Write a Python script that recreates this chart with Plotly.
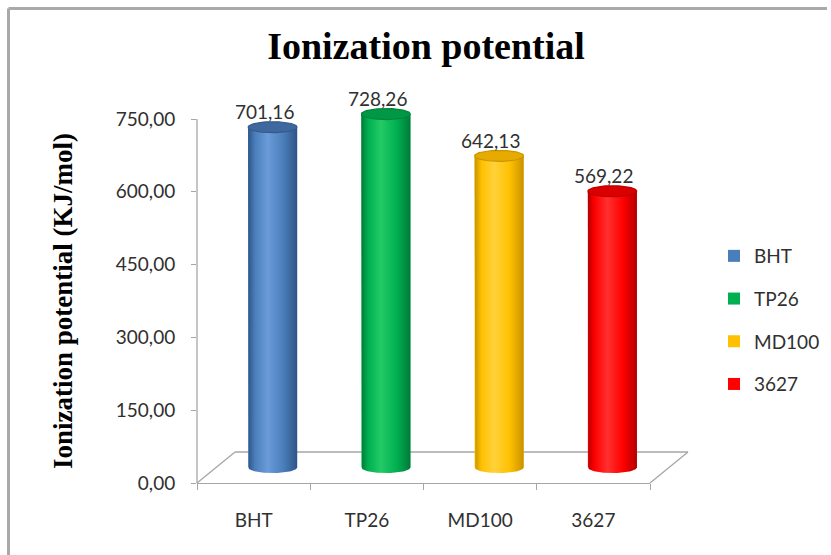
import numpy as np
import plotly.graph_objects as go

# ---- data -------------------------------------------------------------
categories = ["BHT", "TP26", "MD100", "3627"]
values = [701.16, 728.26, 642.13, 569.22]
y_ticks = [0, 150, 300, 450, 600, 750]

# ---- cylinder palette (base, dark edge, highlight, top face, top rim) --
base_colors = ["#4A7EBB", "#00B050", "#FFC000", "#FF0000"]
dark_colors = ["#2F5487", "#007A38", "#C99300", "#B30000"]
light_colors = ["#6B9BD9", "#22CA66", "#FFD23A", "#FF3030"]
top_colors = ["#3F689E", "#009844", "#E6AA00", "#DA0000"]
rim_colors = ["#355A8C", "#00843B", "#C99500", "#BC0000"]

# ---- geometry ---------------------------------------------------------
W, H = 831, 555
L, R, T, B = 197, 650, 95, 483           # plot-area edges in pixels
n = len(categories)
kx = (R - L) / n                         # px per category
ky = 364 / 750                           # px per y unit
y_top = (B - T) / ky                     # upper end of the front-plane axis
depth_x = 38 / kx                        # floor depth (x units)
depth_y = 31 / ky                        # floor depth (y units)
shift_x = depth_x / 2                    # bars stand at mid depth
bar_w = 49 / kx
ell_a = bar_w / 2
ell_b = 5.5 / ky

label_font = dict(family="Lato", size=19, color="#303030")

fig = go.Figure()

# front-plane subplot carrying the value axis
fig.add_scatter(x=[], y=[], xaxis="x", yaxis="y", showlegend=False, hoverinfo="skip")

for i, (cat, v) in enumerate(zip(categories, values)):
    xc = i + shift_x
    fig.add_bar(
        x=[i], y=[v], width=bar_w, offset=shift_x - bar_w / 2,
        marker=dict(color=base_colors[i], line=dict(width=0)),
        name=cat, legendgroup=cat, xaxis="x", yaxis="y2",
        hovertemplate=f"{cat}: %{{y:.2f}}<extra></extra>",
    )
    # shaded cylinder body with rounded bottom
    t = np.linspace(np.pi, 2 * np.pi, 40)
    xs = [xc - ell_a] + list(xc + ell_a * np.cos(t)) + [xc + ell_a, xc - ell_a]
    ys = [v] + list(ell_b * np.sin(t)) + [v, v]
    fig.add_scatter(
        x=xs, y=ys, mode="lines", fill="toself", line=dict(width=0),
        fillgradient=dict(
            type="horizontal",
            colorscale=[[0, dark_colors[i]], [0.14, base_colors[i]],
                        [0.4, light_colors[i]], [0.72, base_colors[i]],
                        [1, dark_colors[i]]],
        ),
        showlegend=False, hoverinfo="skip", xaxis="x", yaxis="y2",
    )
    # top face
    t2 = np.linspace(0, 2 * np.pi, 72)
    fig.add_scatter(
        x=xc + ell_a * np.cos(t2), y=v + ell_b * np.sin(t2),
        mode="lines", fill="toself", fillcolor=top_colors[i],
        line=dict(color=rim_colors[i], width=1.2),
        showlegend=False, hoverinfo="skip", xaxis="x", yaxis="y2",
    )
    # value label
    fig.add_annotation(
        x=xc, y=v, xref="x", yref="y2", text=f"{v:.2f}".replace(".", ","),
        showarrow=False, yanchor="bottom", yshift=2, xshift=-8.5,
        font=label_font,
    )


def xp(x):
    return (x + 0.5) / n


def yp(y):
    return y / y_top


def px_to_paper(px, py):
    return (px - L) / (R - L), (B - py) / (B - T)


line_style = dict(color="#A6A6A6", width=1.3)
x0, x1 = -0.5, n - 0.5
shapes = [
    # y-axis line on the front plane
    dict(type="line", xref="paper", yref="paper", x0=xp(x0), x1=xp(x0),
         y0=yp(0), y1=yp(y_ticks[-1]), line=line_style, layer="below"),
    # floor: left, back and right edges
    dict(type="line", xref="paper", yref="paper", x0=xp(x0), y0=yp(0),
         x1=xp(x0 + depth_x), y1=yp(depth_y), line=line_style, layer="below"),
    dict(type="line", xref="paper", yref="paper", x0=xp(x0 + depth_x), y0=yp(depth_y),
         x1=xp(x1 + depth_x), y1=yp(depth_y), line=line_style, layer="below"),
    dict(type="line", xref="paper", yref="paper", x0=xp(x1 + depth_x), y0=yp(depth_y),
         x1=xp(x1), y1=yp(0), line=line_style, layer="below"),
]

# outer frame (top and left borders)
fx0, fy0 = px_to_paper(8.5, 8.5)
fx1, _ = px_to_paper(W - 4, 8.5)
_, fy1 = px_to_paper(8.5, H)
frame_style = dict(color="#A9A9A9", width=3)
shapes += [
    dict(type="line", xref="paper", yref="paper", x0=fx0, y0=fy0, x1=fx1, y1=fy0,
         line=frame_style),
    dict(type="line", xref="paper", yref="paper", x0=fx0, y0=fy0, x1=fx0, y1=fy1,
         line=frame_style),
]

# y-axis title
tx, ty = px_to_paper(63, 301)
fig.add_annotation(
    x=tx, y=ty, xref="paper", yref="paper", textangle=-90,
    text="Ionization potential (KJ/mol)", showarrow=False,
    xanchor="center", yanchor="middle",
    font=dict(family="Liberation Serif", size=27, color="black", weight="bold"),
)

lx, ly = px_to_paper(714, 237)

fig.update_layout(
    width=W, height=H,
    margin=dict(l=L, r=W - R, t=T, b=H - B, pad=0, autoexpand=False),
    paper_bgcolor="white", plot_bgcolor="rgba(0,0,0,0)",
    separators=", ",
    barmode="overlay",
    title=dict(
        text="Ionization potential", x=426 / W, xanchor="center",
        y=1 - 46 / H, yanchor="middle", yref="container",
        font=dict(family="Liberation Serif", size=38, color="black", weight="bold"),
    ),
    xaxis=dict(
        range=[x0, x1], tickmode="array", tickvals=list(range(n)),
        ticktext=categories, ticks="", showgrid=False, zeroline=False,
        showline=True, linecolor="#A6A6A6", linewidth=1.3, automargin=False,
        tickfont=label_font, ticklabelstandoff=20,
        minor=dict(tickmode="array", tickvals=[k - 0.5 for k in range(n + 1)],
                   ticks="outside", ticklen=6, tickcolor="#A6A6A6", tickwidth=1.3,
                   showgrid=False),
    ),
    yaxis=dict(
        range=[0, y_top], tickmode="array", tickvals=y_ticks, tickformat=".2f",
        ticks="outside", ticklen=5, tickcolor="#A6A6A6", tickwidth=1.3,
        showgrid=False, zeroline=False, showline=False, automargin=False,
        tickfont=label_font, ticklabelstandoff=12,
    ),
    yaxis2=dict(
        overlaying="y", range=[-depth_y / 2, y_top - depth_y / 2],
        visible=False, showgrid=False, zeroline=False, automargin=False,
    ),
    legend=dict(
        x=lx, y=ly, xanchor="left", yanchor="top", font=label_font,
        tracegroupgap=15, bgcolor="rgba(0,0,0,0)",
    ),
    shapes=shapes,
    showlegend=True,
)

fig.write_html("out.html")
